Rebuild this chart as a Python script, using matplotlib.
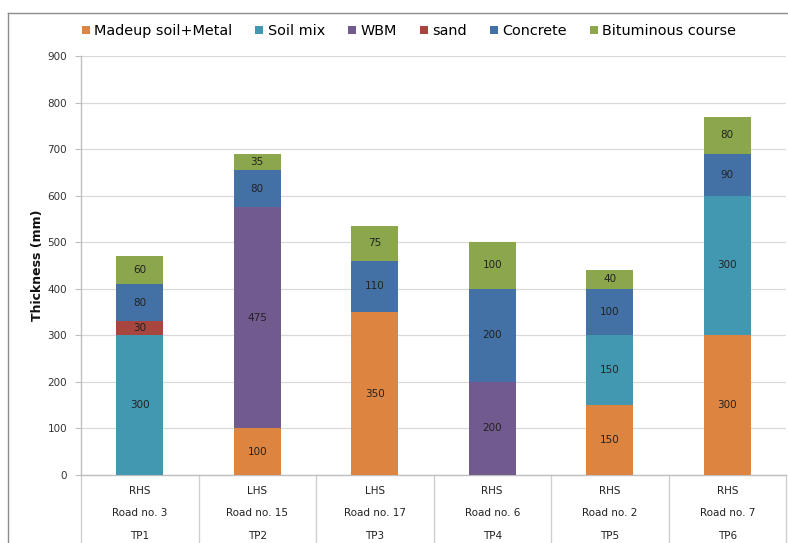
import matplotlib
matplotlib.use("Agg")
import matplotlib.pyplot as plt
from matplotlib.lines import Line2D
from matplotlib.patches import Patch
import numpy as np

# Test pits and their location descriptors (three label rows under each bar)
pits = ["TP1", "TP2", "TP3", "TP4", "TP5", "TP6"]
roads = ["Road no. 3", "Road no. 15", "Road no. 17", "Road no. 6", "Road no. 2", "Road no. 7"]
sides = ["RHS", "LHS", "LHS", "RHS", "RHS", "RHS"]

# Layer thicknesses (mm), bottom to top
layers = ["Madeup soil+Metal", "Soil mix", "WBM", "sand", "Concrete", "Bituminous course"]
madeup = [0, 100, 350, 0, 150, 300]
soil_mix = [300, 0, 0, 0, 150, 300]
wbm = [0, 475, 0, 200, 0, 0]
sand = [30, 0, 0, 0, 0, 0]
concrete = [80, 80, 110, 200, 100, 90]
bituminous = [60, 35, 75, 100, 40, 80]

colors = ["#DD8440", "#4298B0", "#715A8E", "#A8453F", "#4371A6", "#8BA64B"]
series = [madeup, soil_mix, wbm, sand, concrete, bituminous]

fig = plt.figure(figsize=(7.88, 5.43), dpi=100)
ax = fig.add_axes([81 / 788, 1 - 475 / 543, (786 - 81) / 788, (475 - 56) / 543])

x = np.arange(len(pits))
bottom = np.zeros(len(pits))
for name, vals, col in zip(layers, series, colors):
    vals = np.array(vals, dtype=float)
    ax.bar(x, vals, bottom=bottom, width=0.4, color=col, edgecolor="none", zorder=3)
    for xi, v, b in zip(x, vals, bottom):
        if v > 0:
            ax.text(xi, b + v / 2, f"{int(v)}", ha="center", va="center",
                    fontsize=7.5, color="#222222", zorder=4)
    bottom += vals

ax.set_xlim(-0.5, len(pits) - 0.5)
ax.set_ylim(0, 900)
ax.set_yticks(np.arange(0, 901, 100))
ax.tick_params(axis="y", labelsize=7.5, colors="#404040", length=4, width=0.8,
               direction="out", pad=6)
for lbl in ax.get_yticklabels():
    lbl.set_color("#333333")
ax.tick_params(axis="y", color="#BFBFBF")
ax.set_xticks([])
ax.grid(axis="y", color="#D9D9D9", linewidth=0.9, zorder=0)
for s in ["top", "right"]:
    ax.spines[s].set_visible(False)
ax.spines["left"].set_color("#BFBFBF")
ax.spines["bottom"].set_color("#BFBFBF")
ax.spines["left"].set_linewidth(1.0)
ax.spines["bottom"].set_linewidth(1.0)

# Category table below the axis
trans = ax.get_xaxis_transform()
ax_h_px = 475 - 56
def ypos(px_below):
    return -px_below / ax_h_px

for b in np.arange(-0.5, len(pits), 1.0):
    ax.plot([b, b], [0, ypos(75)], transform=trans, color="#CFCFCF",
            linewidth=1.0, clip_on=False)
for i in range(len(pits)):
    ax.text(i, ypos(16), sides[i], transform=trans, ha="center", va="center",
            fontsize=7.5, color="#222222")
    ax.text(i, ypos(38), roads[i], transform=trans, ha="center", va="center",
            fontsize=7.5, color="#222222")
    ax.text(i, ypos(61), pits[i], transform=trans, ha="center", va="center",
            fontsize=7.5, color="#222222")

fig.text(37 / 788, 1 - 265 / 543, "Thickness (mm)", rotation=90, ha="center",
         va="center", fontsize=9, fontweight="bold", color="#111111")

# Legend across the top
handles = [Patch(facecolor=c, edgecolor="none") for c in colors]
fig.legend(handles, layers, loc="center", bbox_to_anchor=(409 / 788, 1 - 31 / 543),
           ncol=6, frameon=False, fontsize=10.4, handlelength=0.55, handleheight=0.55,
           handletextpad=0.3, columnspacing=1.6)

# Outer chart frame
fig.add_artist(Line2D([8 / 788, 1.0], [1 - 13 / 543] * 2, transform=fig.transFigure,
                      color="#8C8C8C", linewidth=1.0))
fig.add_artist(Line2D([8 / 788] * 2, [0, 1 - 13 / 543], transform=fig.transFigure,
                      color="#8C8C8C", linewidth=1.0))

fig.savefig("out.png", dpi=100)
